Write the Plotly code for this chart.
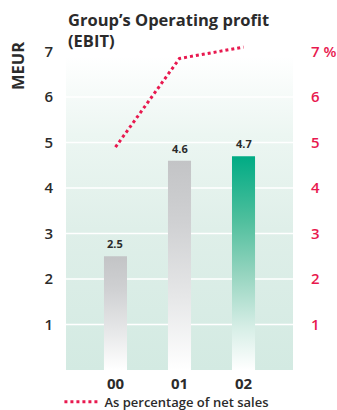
import plotly.graph_objects as go

# Data
years = ["00", "01", "02"]
ebit_meur = [2.5, 4.6, 4.7]
pct_of_sales = [4.9, 6.85, 7.1]
left_ticks = [1, 2, 3, 4, 5, 6, 7]
right_ticktext = ["1", "2", "3", "4", "5", "6", "7 %"]

# Style
DARK = "#2b2b2b"
PINK = "#e8194f"
FONT = "Open Sans"
BAR_W = 0.36
X_RANGE = [-0.773, 2.773]
Y_RANGE = [0, 7.3]
BG_TOP = 6.9

xs = list(range(len(years)))

fig = go.Figure()

# Plot-area background: pale green fading to white towards the top
fig.add_trace(go.Scatter(
    x=[X_RANGE[0], X_RANGE[0], X_RANGE[1], X_RANGE[1], X_RANGE[0]],
    y=[0, BG_TOP, BG_TOP, 0, 0],
    mode="lines", line=dict(width=0), fill="toself",
    fillgradient=dict(type="vertical", colorscale=[
        [0.0, "#d3eae2"], [0.45, "#dfefe9"], [0.75, "#ecf6f2"], [1.0, "#ffffff"]]),
    hoverinfo="skip", showlegend=False))

# White horizontal grid lines at the tick values
gx, gy = [], []
for t in left_ticks:
    gx += [X_RANGE[0], X_RANGE[1], None]
    gy += [t, t, None]
fig.add_trace(go.Scatter(x=gx, y=gy, mode="lines",
                         line=dict(color="white", width=1.5),
                         hoverinfo="skip", showlegend=False))

# Bars with vertical gradients (grey for earlier years, green for the latest)
grey_scale = [[0.0, "#ffffff"], [0.35, "#e6e7e8"], [0.7, "#d0d1d3"], [1.0, "#c3c4c6"]]
green_scale = [[0.0, "#ffffff"], [0.2, "#d6eee6"], [0.45, "#95d4bf"], [0.7, "#4fbf9d"], [1.0, "#00ab84"]]
for i, v in zip(xs, ebit_meur):
    scale = green_scale if i == len(xs) - 1 else grey_scale
    fig.add_trace(go.Scatter(
        x=[i - BAR_W / 2, i - BAR_W / 2, i + BAR_W / 2, i + BAR_W / 2, i - BAR_W / 2],
        y=[0, v, v, 0, 0],
        mode="lines", line=dict(width=0), fill="toself",
        fillgradient=dict(type="vertical", colorscale=scale),
        hoverinfo="skip", showlegend=False))
    fig.add_annotation(x=i, y=v, text=f"<b>{v:.1f}</b>", showarrow=False,
                       yanchor="bottom", yshift=3,
                       font=dict(family=FONT, size=11, color=DARK))

# Operating profit as % of net sales on the right axis
fig.add_trace(go.Scatter(
    x=xs, y=pct_of_sales, yaxis="y2", mode="lines",
    line=dict(color=PINK, width=3, dash="3px,3px"),
    name="As percentage of net sales", showlegend=True))

fig.update_layout(
    width=337, height=410,
    margin=dict(l=66, r=44, t=38, b=40, autoexpand=False),
    paper_bgcolor="white", plot_bgcolor="white",
    font=dict(family=FONT, color=DARK),
    xaxis=dict(range=X_RANGE, tickvals=xs, ticktext=years, showgrid=False,
               zeroline=False, showline=False, ticks="",
               tickfont=dict(family=FONT, size=15, color=DARK, weight=700),
               ticklabelstandoff=3),
    yaxis=dict(range=Y_RANGE, tickvals=left_ticks, showgrid=False,
               zeroline=False, showline=False, ticks="",
               tickfont=dict(family=FONT, size=15, color=DARK, weight=600),
               ticklabelstandoff=12),
    yaxis2=dict(range=Y_RANGE, overlaying="y", side="right",
                tickvals=left_ticks, ticktext=right_ticktext, showgrid=False,
                zeroline=False, showline=False, ticks="",
                tickfont=dict(family=FONT, size=15, color=PINK, weight=600),
                ticklabelstandoff=17),
    showlegend=True,
    legend=dict(orientation="h", x=-0.029, xanchor="left", y=-0.096, yanchor="middle",
                itemwidth=35, bgcolor="rgba(0,0,0,0)",
                font=dict(family=FONT, size=13, color=DARK, weight=600)),
)

fig.add_annotation(xref="paper", yref="paper", x=0, y=1.0226, xanchor="left",
                   yanchor="middle", align="left", showarrow=False,
                   text="<b>Group’s Operating profit<br>(EBIT)</b>",
                   font=dict(family=FONT, size=16.5, color=DARK))
fig.add_annotation(xref="paper", yref="paper", x=-0.2115, y=0.9157, textangle=-90,
                   xanchor="center", yanchor="middle", showarrow=False,
                   text="<b>MEUR</b>", font=dict(family=FONT, size=16.5, color=DARK))

fig.write_html("out.html")
